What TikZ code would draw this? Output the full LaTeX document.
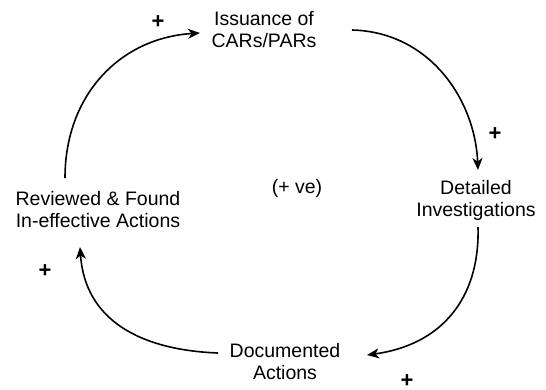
\documentclass[tikz,border=0pt]{standalone}
\usepackage{fontspec}
\setmainfont{Liberation Sans}
\usetikzlibrary{arrows.meta}
\begin{document}
\begin{tikzpicture}[x=1pt,y=-1pt,
  lbl/.style={align=center,font=\fontsize{19.5}{22}\selectfont,inner sep=0pt},
  sgn/.style={font=\fontsize{22}{22}\selectfont\bfseries,inner sep=0pt},
  link/.style={line width=1.6pt,-{Stealth[length=12pt,width=10pt,inset=3.5pt]}}]
\useasboundingbox (0,0) rectangle (546,389);
\node[lbl] (iss) at (264,30) {Issuance of\\CARs/PARs};
\node[lbl] (det) at (476,200) {Detailed\\Investigations};
\node[lbl] (doc) at (285,362) {Documented\\Actions};
\node[lbl] (rev) at (98,210) {Reviewed \& Found\\In-effective Actions};
\node[lbl] (ve) at (297,188) {(+ ve)};
\node[sgn] (p1) at (158,22) {+};
\node[sgn] (p2) at (495,134) {+};
\node[sgn] (p3) at (45,271) {+};
\node[sgn] (p4) at (407,381) {+};
\coordinate (a1s) at (65,178);
\coordinate (a1e) at (200,33);
\coordinate (a2s) at (352,30);
\coordinate (a2e) at (478,170);
\coordinate (a3s) at (478,227);
\coordinate (a3e) at (367,355);
\coordinate (a4s) at (218,353);
\coordinate (a4e) at (80,247);
\draw[link] (a1s) .. controls (65,95) and (120,38) .. (a1e);
\draw[link] (a2s) .. controls (430,32) and (475,100) .. (a2e);
\draw[link] (a3s) .. controls (480,300) and (440,345) .. (a3e);
\draw[link] (a4s) .. controls (140,350) and (85,320) .. (a4e);
\end{tikzpicture}
\end{document}
